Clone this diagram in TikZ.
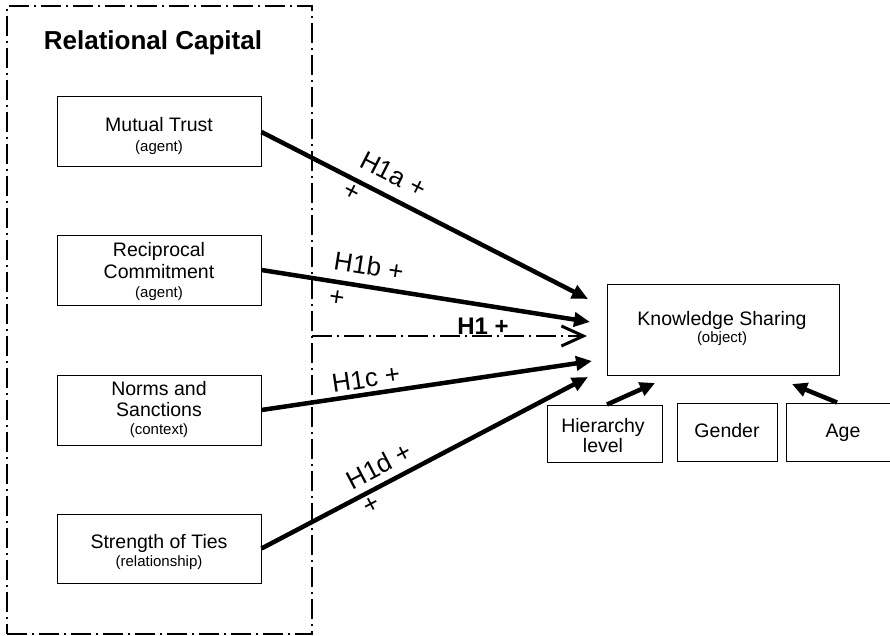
\documentclass[tikz,border=0pt]{standalone}
\usepackage{fontspec}
\setmainfont{Liberation Sans}
\usetikzlibrary{arrows.meta}
\begin{document}
\begin{tikzpicture}[x=1pt,y=-1pt,
  box/.style={draw=black, line width=1pt, rectangle, inner sep=0pt},
  maintxt/.style={font=\fontsize{19.5}{23}\selectfont, inner sep=0pt, anchor=base},
  subtxt/.style={font=\fontsize{15}{18}\selectfont, inner sep=0pt, anchor=base},
  hyp/.style={line width=4.5pt, -{Triangle[length=16pt,width=14pt]}},
  ctl/.style={line width=4.5pt, -{Triangle[length=15pt,width=14pt]}},
  hlab/.style={font=\fontsize{26}{30}\selectfont, inner sep=0pt, sloped},
  dashdot/.style={line width=1.2pt, dash pattern=on 20pt off 5pt on 2pt off 5pt},
]
\useasboundingbox[fill=white] (0,0) rectangle (890,636);

% outer dash-dot frame
\node[draw, dashdot, rectangle, inner sep=0pt, minimum width=305pt, minimum height=628pt] (rc) at (159.5,320) {};
\node[font=\bfseries\fontsize{26}{30}\selectfont, inner sep=0pt, anchor=base] (title) at (153,50) {Relational Capital};

% left boxes
\node[box, minimum width=204pt, minimum height=70pt] (mt) at (159,132) {};
\node[maintxt] (mt1) at (159,132) {Mutual Trust};
\node[subtxt] (mt2) at (159,152) {(agent)};

\node[box, minimum width=204pt, minimum height=70pt] (rcm) at (159,270) {};
\node[maintxt] (rcm1) at (159,256) {Reciprocal};
\node[maintxt] (rcm2) at (159,278) {Commitment};
\node[subtxt] (rcm3) at (159,297) {(agent)};

\node[box, minimum width=204pt, minimum height=70pt] (ns) at (159,410) {};
\node[maintxt] (ns1) at (159,395) {Norms and};
\node[maintxt] (ns2) at (159,416) {Sanctions};
\node[subtxt] (ns3) at (159,434) {(context)};

\node[box, minimum width=204pt, minimum height=69pt] (st) at (159,548.5) {};
\node[maintxt] (st1) at (159,548) {Strength of Ties};
\node[subtxt] (st2) at (159,566) {(relationship)};

% right boxes
\node[box, minimum width=232pt, minimum height=91pt] (ks) at (723,329.5) {};
\node[maintxt] (ks1) at (722,325) {Knowledge Sharing};
\node[subtxt] (ks2) at (722,342) {(object)};

\node[box, minimum width=115pt, minimum height=57pt] (hl) at (604.5,433.5) {};
\node[maintxt] (hl1) at (603,432) {Hierarchy};
\node[maintxt] (hl2) at (603,452) {level};

\node[box, minimum width=100pt, minimum height=58pt] (gd) at (727,432) {};
\node[maintxt] (gd1) at (727,437) {Gender};

\node[box, minimum width=114pt, minimum height=58pt] (age) at (843,432) {};
\node[maintxt] (age1) at (843,437) {Age};

% tip coordinates
\coordinate (ta) at (588,299);
\coordinate (tb) at (590,322);
\coordinate (tc) at (592,361);
\coordinate (td) at (588,377);
\coordinate (th) at (655,383);
\coordinate (tg) at (792,384);
\coordinate (h1s) at (312,336);
\coordinate (h1e) at (587,336);

% hypotheses
\draw[hyp] (mt.east) -- node[hlab, pos=0.373, above=11pt] (la) {H1a +}
                       node[hlab, pos=0.295, below=3pt] (pa) {+} (ta);
\draw[hyp] (rcm.east) -- node[hlab, pos=0.317, above=9pt] (lb) {H1b +}
                        node[hlab, pos=0.237, below=6pt] (pb) {+} (tb);
\draw[hyp] (ns.east) -- node[hlab, pos=0.323, above=4pt] (lc) {H1c +} (tc);
\draw[hyp] (st.east) -- node[hlab, pos=0.387, above=7pt] (ld) {H1d +}
                       node[hlab, pos=0.319, below=3pt] (pd) {+} (td);

\draw[dashdot, -{Straight Barb[length=22pt,width=20pt,line width=3pt]}] (h1s) --
  node[pos=0.622, anchor=base, yshift=2pt, font=\bfseries\fontsize{24}{28}\selectfont, inner sep=0pt] (h1) {H1 +} (h1e);

% controls
\draw[ctl] ([xshift=2.5pt]hl.north) -- (th);
\draw[ctl] ([xshift=-6pt]age.north) -- (tg);
\end{tikzpicture}
\end{document}
